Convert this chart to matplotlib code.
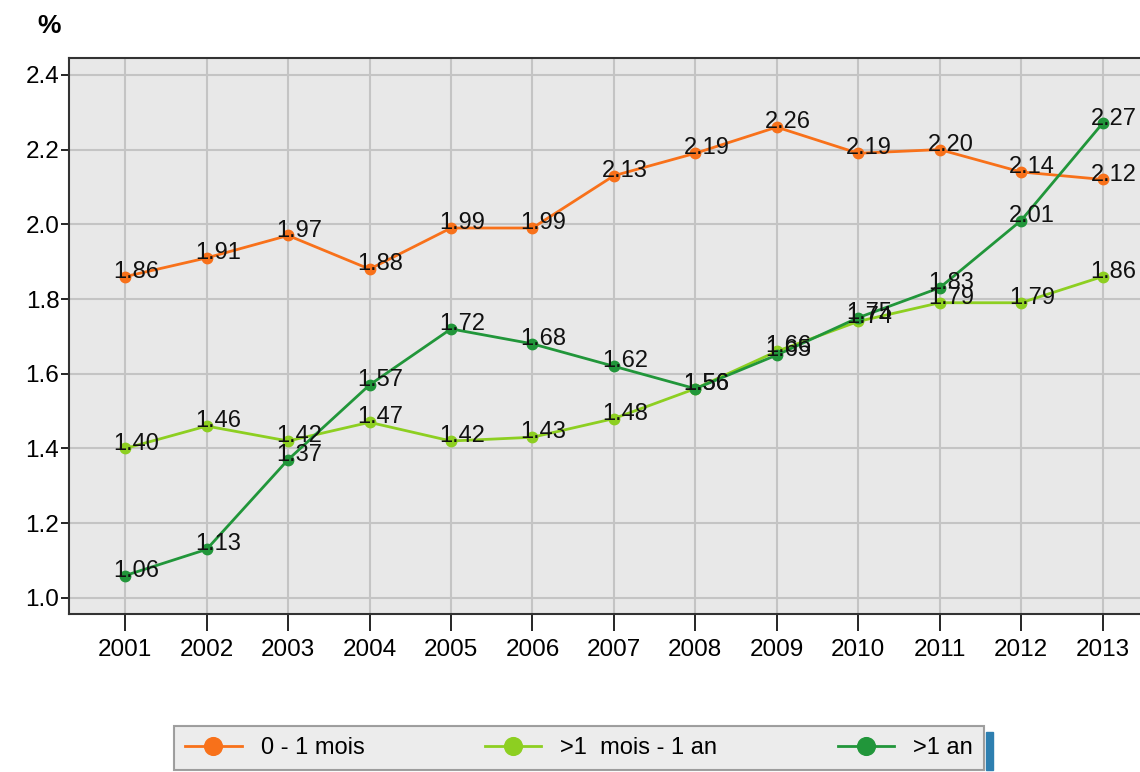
import numpy as np
import matplotlib.pyplot as plt
from matplotlib.patches import Rectangle

plt.rcParams['font.family'] = ['Liberation Sans', 'DejaVu Sans']

annees = [2001, 2002, 2003, 2004, 2005, 2006, 2007, 2008, 2009, 2010, 2011, 2012, 2013]
court = [1.86, 1.91, 1.97, 1.88, 1.99, 1.99, 2.13, 2.19, 2.26, 2.19, 2.20, 2.14, 2.12]
moyen = [1.40, 1.46, 1.42, 1.47, 1.42, 1.43, 1.48, 1.56, 1.66, 1.74, 1.79, 1.79, 1.86]
long_ = [1.06, 1.13, 1.37, 1.57, 1.72, 1.68, 1.62, 1.56, 1.65, 1.75, 1.83, 2.01, 2.27]
noms = ["0 - 1 mois", ">1  mois - 1 an", ">1 an"]
couleurs = ["#F8711A", "#8DCF21", "#21963A"]

fig = plt.figure(figsize=(11.4, 7.72), dpi=100)
ax = fig.add_axes([69/1140, 1-614/772, 1-69/1140+0.01, (614-58)/772])
ax.set_facecolor("#E8E8E8")

for serie, nom, c in zip([court, moyen, long_], noms, couleurs):
    ax.plot(annees, serie, '-o', color=c, lw=2.0, ms=7.5, label=nom, zorder=3)
    for x, y in zip(annees, serie):
        ax.annotate("%.2f" % y, (x, y), xytext=(8, 3.5), textcoords="offset points",
                    ha="center", va="center", fontsize=17, color="#111111", zorder=4)

ax.set_xlim(2000.31, 2013.6)
ax.set_ylim(0.957, 2.445)
ax.set_xticks(annees)
ax.set_yticks([1.0, 1.2, 1.4, 1.6, 1.8, 2.0, 2.2, 2.4])
ax.set_yticklabels(["%.1f" % v for v in ax.get_yticks()])
ax.grid(True, color="#C4C4C4", lw=1.5)
ax.set_axisbelow(True)
ax.tick_params(axis="x", length=12, width=1.2, pad=6, labelsize=17.5)
ax.tick_params(axis="y", length=6, width=1.2, pad=1, labelsize=17.5)
for s in ax.spines.values():
    s.set_color("#333333")
    s.set_linewidth(1.5)

fig.text(37/1140, 1-26/772, "%", fontsize=19, fontweight="bold", va="center", ha="left")

leg = fig.legend(loc="center", bbox_to_anchor=(579/1140, 1-748/772), ncol=3,
                 fontsize=17, frameon=True, fancybox=False, handlelength=2.4,
                 columnspacing=5.1, markerscale=1.7, borderpad=0.45)
leg.get_frame().set_facecolor("#E8E8E8")
leg.get_frame().set_edgecolor("#888888")
leg.get_frame().set_linewidth(1.5)
fig.patches.append(Rectangle((986/1140, 1-770/772), 7/1140, 38/772,
                             transform=fig.transFigure, color="#2E7FB0", zorder=0))

fig.savefig("out.png", dpi=100)
